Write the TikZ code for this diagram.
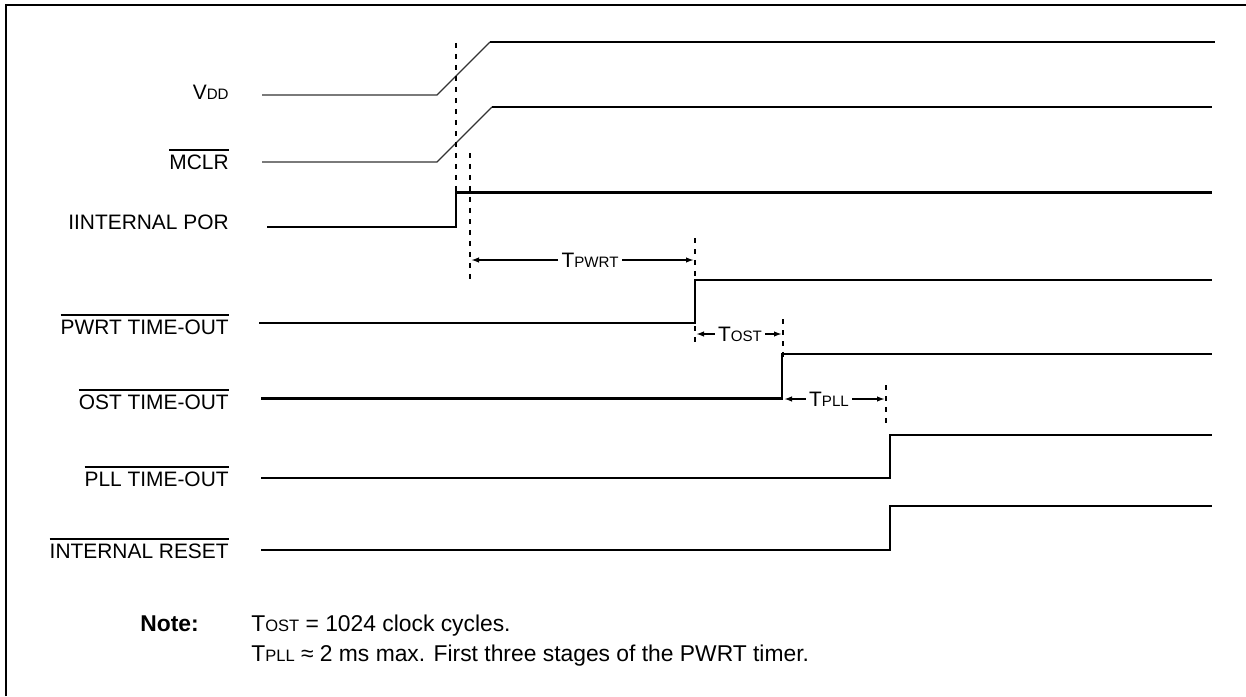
\documentclass[tikz,border=0pt]{standalone}
\usepackage{fontspec}
\setmainfont{Liberation Sans}
\usetikzlibrary{arrows.meta}

\newcommand{\smc}[1]{{\fontsize{8.6}{10}\selectfont #1}}
\newcommand{\nsmc}[1]{{\fontsize{9.4}{11}\selectfont #1}}
\newcommand{\ovl}[1]{\vbox{\hrule height 1.1pt\kern 2.2pt\hbox{#1}}}

\begin{document}
\begin{tikzpicture}[x=0.02cm,y=-0.02cm,line join=miter,
  every node/.style={font=\fontsize{11.9}{14}\selectfont,inner sep=0pt},
  sig/.style={line width=1.15pt},
  slope/.style={line width=0.75pt,black!80},
  tick/.style={line width=1.1pt,dash pattern=on 0.1cm off 0.12cm},
  dim/.style={line width=0.9pt,-{Latex[length=1.6mm,width=1.1mm]}},
  lbl/.style={anchor=base east},
  dimlbl/.style={inner xsep=1.8pt},
  notetext/.style={anchor=base west,font=\fontsize{13}{15}\selectfont}]
  \useasboundingbox (0,0) rectangle (1246,696);
  % frame
  \draw[sig] (6,696) -- (6,5) -- (1246,5);
  % signal names
  \node[lbl] (vdd) at (229,99) {V\smc{DD}};
  \node[lbl] (mclr) at (229,169) {\ovl{MCLR}};
  \node[lbl] (por) at (229,229) {IINTERNAL POR};
  \node[lbl] (pwrt) at (229,334) {\ovl{PWRT TIME-OUT}};
  \node[lbl] (ost) at (229,409) {\ovl{OST TIME-OUT}};
  \node[lbl] (pll) at (229,486) {\ovl{PLL TIME-OUT}};
  \node[lbl] (rst) at (229,558) {\ovl{INTERNAL RESET}};
  % waveforms
  \draw[slope] (262,95) -- (437,95) -- (490,42);
  \draw[sig] (490,42) -- (1215,42);
  \draw[slope] (262,162) -- (437,162) -- (492,107);
  \draw[sig] (492,107) -- (1212,107);
  \draw[sig] (267,227) -- (456,227) -- (456,192.5) -- (1212,192.5);
  \draw[sig] (259,323) -- (695,323) -- (695,280) -- (1212,280);
  \draw[sig] (261,398.5) -- (782,398.5) -- (782,354) -- (1212,354);
  \draw[sig] (261,478) -- (890,478) -- (890,435) -- (1212,435);
  \draw[sig] (261,550) -- (890,550) -- (890,506) -- (1212,506);
  % timing marks
  \draw[tick] (456,43) -- (456,193);
  \draw[tick] (470,153) -- (470,280);
  \draw[tick] (695,238) -- (695,347);
  \draw[tick] (783,319) -- (783,360);
  \draw[tick] (886,385) -- (886,427);
  \coordinate (PW1) at (471,260);
  \coordinate (PW2) at (694,260);
  \coordinate (OS1) at (696,334);
  \coordinate (OS2) at (782,334);
  \coordinate (PL1) at (784,399);
  \coordinate (PL2) at (885,399);
  \node[dimlbl] (tpwrt) at (590,260) {T\smc{PWRT}};
  \node[dimlbl] (tost) at (740,334) {T\smc{OST}};
  \node[dimlbl] (tpll) at (829,399) {T\smc{PLL}};
  \draw[dim] (tpwrt) -- (PW1);
  \draw[dim] (tpwrt) -- (PW2);
  \draw[dim] (tost) -- (OS1);
  \draw[dim] (tost) -- (OS2);
  \draw[dim] (tpll) -- (PL1);
  \draw[dim] (tpll) -- (PL2);
  % note
  \node[notetext,font=\fontsize{13}{15}\selectfont\bfseries] (note) at (140,631) {Note:};
  \node[notetext] (line1) at (251,631) {T\nsmc{OST} = 1024 clock cycles.};
  \node[notetext] (line2) at (251,661) {T\nsmc{PLL} ≈ 2 ms max. First three stages of the PWRT timer.};
\end{tikzpicture}
\end{document}
